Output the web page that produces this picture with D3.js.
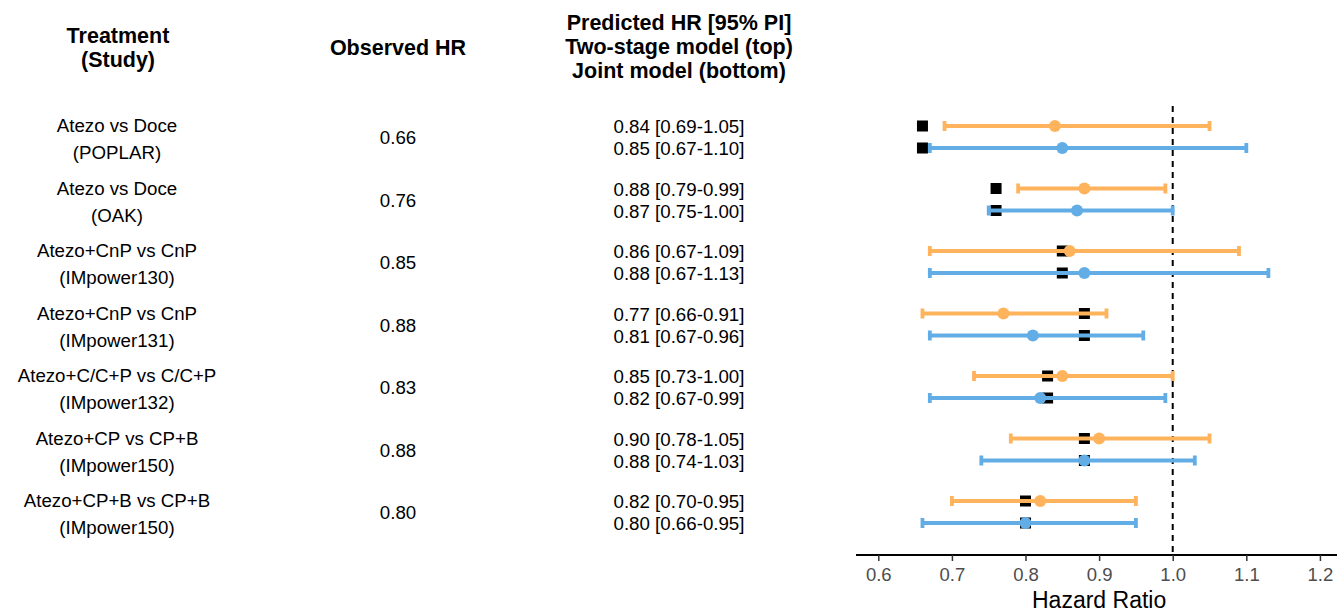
<!DOCTYPE html>
<html>
<head>
<meta charset="utf-8">
<script src="https://cdn.jsdelivr.net/npm/d3@7"></script>
<style>
  body { margin: 0; background: #fff; }
  svg { display: block; font-family: "Liberation Sans", Arial, sans-serif; }
</style>
</head>
<body>
<svg width="1337" height="612"></svg>
<script>
// study rows, top to bottom
var treatments = ["Atezo vs Doce", "Atezo vs Doce", "Atezo+CnP vs CnP", "Atezo+CnP vs CnP",
  "Atezo+C/C+P vs C/C+P", "Atezo+CP vs CP+B", "Atezo+CP+B vs CP+B"];
var studies = ["(POPLAR)", "(OAK)", "(IMpower130)", "(IMpower131)", "(IMpower132)", "(IMpower150)", "(IMpower150)"];
var observed = [0.66, 0.76, 0.85, 0.88, 0.83, 0.88, 0.80];

// two-stage model (top, orange)
var twoStageEst = [0.84, 0.88, 0.86, 0.77, 0.85, 0.90, 0.82];
var twoStageLo  = [0.69, 0.79, 0.67, 0.66, 0.73, 0.78, 0.70];
var twoStageHi  = [1.05, 0.99, 1.09, 0.91, 1.00, 1.05, 0.95];

// joint model (bottom, blue)
var jointEst = [0.85, 0.87, 0.88, 0.81, 0.82, 0.88, 0.80];
var jointLo  = [0.67, 0.75, 0.67, 0.67, 0.67, 0.74, 0.66];
var jointHi  = [1.10, 1.00, 1.13, 0.96, 0.99, 1.03, 0.95];

var xTicks = [0.6, 0.7, 0.8, 0.9, 1.0, 1.1, 1.2];

var svg = d3.select("svg");
var fmt = d3.format(".2f");

var x = d3.scaleLinear().domain([0.5697, 1.2232]).range([856, 1337]);
var y = d3.scalePoint().domain(d3.range(studies.length)).range([137, 512]);
var off = 11;

var series = [
  {name: "two", est: twoStageEst, lo: twoStageLo, hi: twoStageHi, dy: -off, color: "#ffb35c"},
  {name: "joint", est: jointEst, lo: jointLo, hi: jointHi, dy: off, color: "#62ade6"}
];

// headers
var head = svg.append("g").style("font-weight", "bold").style("font-size", "21.5px")
  .attr("text-anchor", "middle").attr("fill", "#000");
head.append("text").attr("x", 118).attr("y", 43).text("Treatment");
head.append("text").attr("x", 118).attr("y", 67).text("(Study)");
head.append("text").attr("x", 398).attr("y", 55).text("Observed HR");
head.append("text").attr("x", 679).attr("y", 30).text("Predicted HR [95% PI]");
head.append("text").attr("x", 679).attr("y", 54).text("Two-stage model (top)");
head.append("text").attr("x", 679).attr("y", 78).text("Joint model (bottom)");

// table text
var rows = svg.append("g").style("font-size", "18.7px").attr("text-anchor", "middle").attr("fill", "#000");
var idx = d3.range(studies.length);
rows.selectAll(".trt").data(idx).enter().append("text")
  .attr("x", 117).attr("y", function(i) { return y(i) - 5; }).text(function(i) { return treatments[i]; });
rows.selectAll(".std").data(idx).enter().append("text")
  .attr("x", 117).attr("y", function(i) { return y(i) + 22; }).text(function(i) { return studies[i]; });
rows.selectAll(".obs").data(idx).enter().append("text")
  .attr("x", 398).attr("y", function(i) { return y(i) + 7; }).text(function(i) { return fmt(observed[i]); });
series.forEach(function(s) {
  rows.selectAll(".pred-" + s.name).data(idx).enter().append("text")
    .attr("x", 679).attr("y", function(i) { return y(i) + s.dy + 7; })
    .text(function(i) { return fmt(s.est[i]) + " [" + fmt(s.lo[i]) + "-" + fmt(s.hi[i]) + "]"; });
});

// reference line at HR = 1
svg.append("line")
  .attr("x1", x(1)).attr("x2", x(1)).attr("y1", 106).attr("y2", 555)
  .attr("stroke", "#000").attr("stroke-width", 2).attr("stroke-dasharray", "6,5");

var plot = svg.append("g");

// observed HR squares (behind the intervals)
series.forEach(function(s) {
  plot.selectAll(".sq-" + s.name).data(idx).enter().append("rect")
    .attr("x", function(i) { return x(observed[i]) - 5.5; })
    .attr("y", function(i) { return y(i) + s.dy - 5.5; })
    .attr("width", 11).attr("height", 11).attr("fill", "#000");
});

// prediction intervals
series.forEach(function(s) {
  var g = plot.append("g").attr("stroke", s.color).attr("stroke-width", 3.8);
  g.selectAll(".bar").data(idx).enter().append("line")
    .attr("x1", function(i) { return x(s.lo[i]); })
    .attr("x2", function(i) { return x(s.hi[i]); })
    .attr("y1", function(i) { return y(i) + s.dy; })
    .attr("y2", function(i) { return y(i) + s.dy; });
  ["lo", "hi"].forEach(function(k) {
    g.selectAll(".cap-" + k).data(idx).enter().append("line")
      .attr("x1", function(i) { return x(s[k][i]); })
      .attr("x2", function(i) { return x(s[k][i]); })
      .attr("y1", function(i) { return y(i) + s.dy - 5; })
      .attr("y2", function(i) { return y(i) + s.dy + 5; });
  });
  plot.selectAll(".dot-" + s.name).data(idx).enter().append("circle")
    .attr("cx", function(i) { return x(s.est[i]); })
    .attr("cy", function(i) { return y(i) + s.dy; })
    .attr("r", 6).attr("fill", s.color);
});

// x axis
var axis = svg.append("g").attr("transform", "translate(0,555)")
  .call(d3.axisBottom(x).tickValues(xTicks).tickFormat(d3.format(".1f")).tickSize(6).tickPadding(7));
axis.select(".domain").attr("stroke", "#000").attr("stroke-width", 2).attr("d", "M856,0H1337");
axis.selectAll(".tick line").attr("stroke", "#333").attr("stroke-width", 1.5);
axis.selectAll(".tick text").attr("fill", "#4d4d4d").style("font-size", "18.5px")
  .style("font-family", "'Liberation Sans', Arial, sans-serif");

svg.append("text").attr("x", x(0.9)).attr("y", 608).attr("text-anchor", "middle")
  .style("font-size", "23px").attr("fill", "#000").text("Hazard Ratio");
</script>
</body>
</html>
